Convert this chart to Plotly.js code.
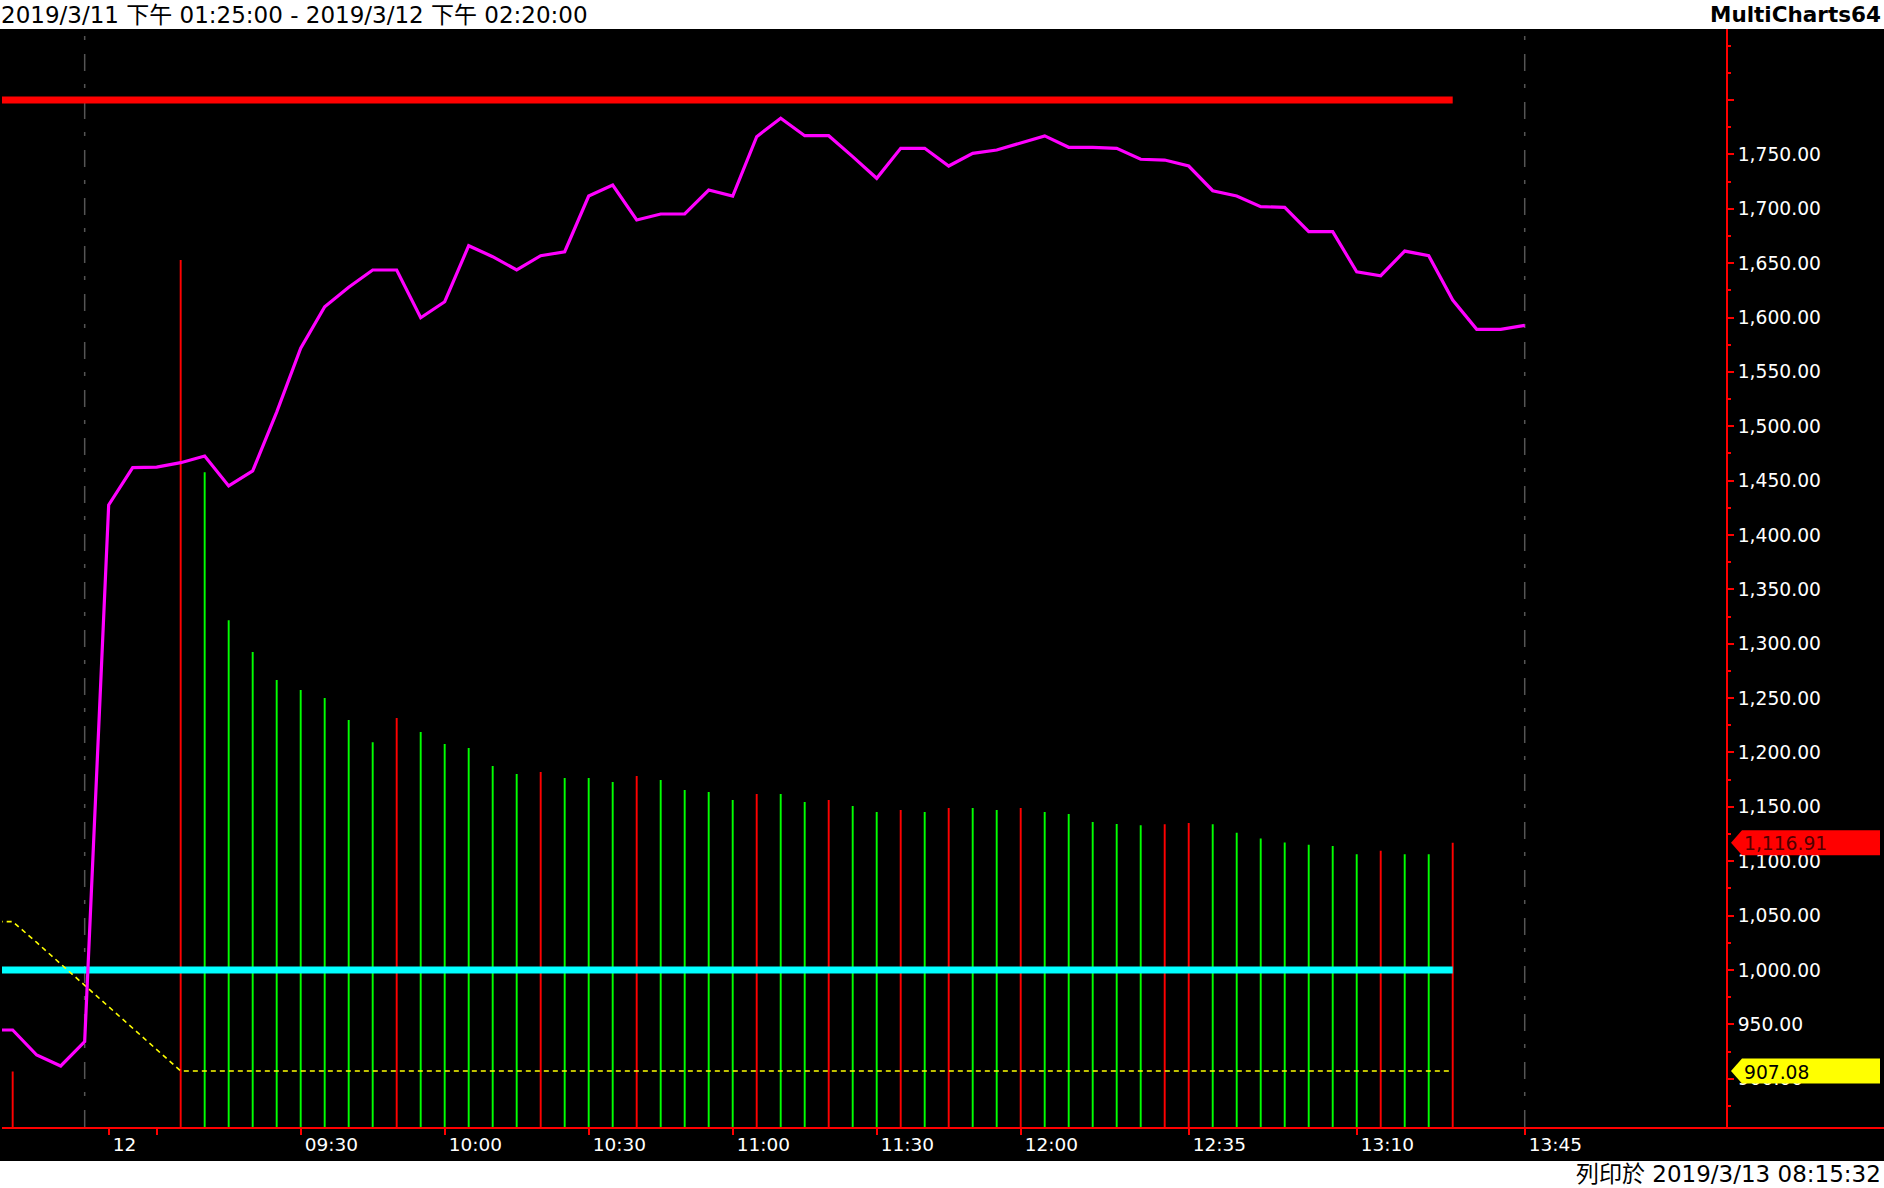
<!DOCTYPE html>
<html><head><meta charset="utf-8">
<script src="https://cdn.plot.ly/plotly-3.0.1.min.js"></script>
<style>html,body{margin:0;padding:0;background:#fff;overflow:hidden}#chart{width:1884px;height:1188px}</style>
</head><body><div id="chart"></div>
<script>
// ---- texts ----
const titleText = '2019/3/11 下午 01:25:00 - 2019/3/12 下午 02:20:00';
const brandText = 'MultiCharts64';
const printText = '列印於 2019/3/13 08:15:32';

// ---- magenta line (bar slot index, value) ----
const lineIdx = [-1,0,1,2,3,4,5,6,7,8,9,10,11,12,13,14,15,16,17,18,19,20,21,22,23,24,25,26,27,28,29,30,31,32,33,34,35,36,37,38,39,40,41,42,43,44,45,46,47,48,49,50,51,52,53,54,55,56,57,58,59,60,61,62,63];
const lineValues = [944.8,944.8,921.8,911.7,934.1,1427.6,1461.9,1462.5,1466.5,1472.6,1445.1,1458.9,1513.0,1571.7,1609.9,1627.8,1643.7,1643.7,1599.8,1614.5,1666.0,1655.9,1643.7,1656.8,1660.5,1711.7,1721.8,1689.7,1695.2,1695.2,1717.2,1711.7,1766.3,1783.2,1767.2,1767.2,1747.9,1728.0,1755.6,1755.6,1739.3,1751.0,1754.0,1760.7,1767.0,1756.5,1756.5,1755.6,1745.5,1744.8,1739.3,1716.6,1711.7,1701.9,1701.3,1678.9,1678.9,1642.1,1638.4,1661.1,1656.8,1616.1,1589.1,1589.1,1592.8];

// ---- histogram bars ----
const barIdx = [0,7,8,9,10,11,12,13,14,15,16,17,18,19,20,21,22,23,24,25,26,27,28,29,30,31,32,33,34,35,36,37,38,39,40,41,42,43,44,45,46,47,48,49,50,51,52,53,54,55,56,57,58,59,60];
const barValues = [906.6,1652.9,1457.6,1321.6,1292.4,1266.7,1257.5,1250.1,1229.9,1209.4,1231.7,1218.9,1207.8,1204.1,1187.6,1180.2,1182.1,1176.6,1176.6,1172.9,1178.4,1174.7,1165.5,1163.7,1156.3,1161.8,1161.8,1154.5,1156.3,1150.8,1145.3,1147.1,1145.3,1149.0,1149.0,1147.1,1149.0,1145.3,1143.4,1136.1,1134.3,1133.0,1134.1,1135.2,1134.1,1126.3,1120.8,1117.3,1115.2,1114.1,1106.4,1109.7,1106.4,1106.4,1116.91];
const barUp = [0,0,1,1,1,1,1,1,1,1,0,1,1,1,1,1,0,1,1,1,0,1,1,1,1,0,1,1,0,1,1,0,1,0,1,1,0,1,1,1,1,1,0,0,1,1,1,1,1,1,1,0,1,1,0];

// ---- yellow dashed trail (slot -1..60) ----
const trailIdx = [-1,0,1,2,3,4,5,6,
  7,8,9,10,11,12,13,14,15,16,
  17,18,19,20,21,22,23,24,25,26,
  27,28,29,30,31,32,33,34,35,36,
  37,38,39,40,41,42,43,44,45,46,
  47,48,49,50,51,52,53,54,55,56,
  57,58,59,60];
const trailValues = [1044.5,1044.5,1025.3,1005.5,985.7,966.0,946.0,926.4,
  907.08,907.08,907.08,907.08,907.08,907.08,907.08,907.08,907.08,907.08,
  907.08,907.08,907.08,907.08,907.08,907.08,907.08,907.08,907.08,907.08,
  907.08,907.08,907.08,907.08,907.08,907.08,907.08,907.08,907.08,907.08,
  907.08,907.08,907.08,907.08,907.08,907.08,907.08,907.08,907.08,907.08,
  907.08,907.08,907.08,907.08,907.08,907.08,907.08,907.08,907.08,907.08,
  907.08,907.08,907.08,907.08];

// ---- horizontal levels ----
const levelIdx = [-1, 60];
const upperLevel = [1800, 1800];
const lowerLevel = [1000, 1000];

// ---- session separators ----
const sessionBreaks = [3, 63];

// ---- axes ----
const timeTickIdx = [4,6,12,18,24,30,36,42,49,56,63];
const timeTickLabels = ['12','','09:30','10:00','10:30','11:00','11:30','12:00','12:35','13:10','13:45'];
const priceTicks = [900,950,1000,1050,1100,1150,1200,1250,1300,1350,1400,1450,1500,1550,1600,1650,1700,1750,1800];
const priceUnlabeled = [1800];

const fmt = v => v.toLocaleString('en-US',{minimumFractionDigits:2,maximumFractionDigits:2});
const priceTickText = priceTicks.map(v => priceUnlabeled.includes(v) ? '' : fmt(v));

const W = 1884, H = 1188;
const M = {l:2, r:0, t:29, b:61};
const plotW = W - M.l - M.r, plotH = H - M.t - M.b;
const axisPos = (1727 - M.l) / plotW;
const FONT = 'DejaVu Sans, Noto Sans CJK TC, sans-serif';

const traces = [
  {x: levelIdx, y: lowerLevel, type:'scatter', mode:'lines', line:{color:'#00FFFF', width:7}, hoverinfo:'skip'},
  {x: levelIdx, y: upperLevel, type:'scatter', mode:'lines', line:{color:'#FF0000', width:7}, hoverinfo:'skip'},
  {x: barIdx, y: barValues, type:'bar', width:0.08,
   marker:{color: barUp.map(u => u ? '#00FF00' : '#FF0000'), line:{width:0}}, hoverinfo:'skip'},
  {x: trailIdx, y: trailValues, type:'scatter', mode:'lines', line:{color:'#FFFF00', width:1.6, dash:'5px,4px'}, hoverinfo:'skip'},
  {x: lineIdx, y: lineValues, type:'scatter', mode:'lines', line:{color:'#FF00FF', width:3.2}, hoverinfo:'skip'}
];

const lastBar = barValues[barValues.length-1];
const lastTrail = trailValues[trailValues.length-1];
const tagPath = 'M4,0L15,12.5L153,12.5L153,-12.5L15,-12.5Z';

const shapes = [
  {type:'rect', xref:'paper', yref:'paper', x0:-0.01, x1:1.01, y0:-(34/plotH), y1:1, fillcolor:'#000', line:{width:0}, layer:'below'},
  ...sessionBreaks.map(s => ({type:'line', xref:'x', yref:'paper', x0:s, x1:s, y0:0, y1:1,
      line:{color:'#555555', width:1.5, dash:'17px,14px,4px,13px'}, layer:'below'})),
  {type:'path', xref:'paper', yref:'y', xsizemode:'pixel', ysizemode:'pixel', xanchor:axisPos, yanchor:lastBar,
   path: tagPath, fillcolor:'#FF0000', line:{width:0}, layer:'above'},
  {type:'path', xref:'paper', yref:'y', xsizemode:'pixel', ysizemode:'pixel', xanchor:axisPos, yanchor:lastTrail,
   path: tagPath, fillcolor:'#FFFF00', line:{width:0}, layer:'above'}
];

const annotations = [
  {text:titleText, xref:'paper', yref:'paper', x:0, y:1, xanchor:'left', yanchor:'middle', xshift:-3, yshift:14.5,
   showarrow:false, font:{family:FONT, size:23, color:'#000'}},
  {text:'<b>'+brandText+'</b>', xref:'paper', yref:'paper', x:1, y:1, xanchor:'right', yanchor:'middle', xshift:-1, yshift:14.5,
   showarrow:false, font:{family:FONT, size:21.5, color:'#000'}},
  {text:printText, xref:'paper', yref:'paper', x:1, y:0, xanchor:'right', yanchor:'middle', xshift:-1, yshift:-47,
   showarrow:false, font:{family:FONT, size:23, color:'#000'}},
  {text:fmt(lastBar), xref:'paper', yref:'y', x:axisPos, y:lastBar, xanchor:'left', yanchor:'middle', xshift:15, yshift:-1,
   showarrow:false, font:{family:FONT, size:18.7, color:'#500000'}},
  {text:fmt(lastTrail), xref:'paper', yref:'y', x:axisPos, y:lastTrail, xanchor:'left', yanchor:'middle', xshift:15, yshift:-1,
   showarrow:false, font:{family:FONT, size:18.7, color:'#000'}}
];

const layout = {
  width:W, height:H, margin:{l:M.l, r:M.r, t:M.t, b:M.b, pad:0},
  paper_bgcolor:'#FFFFFF', plot_bgcolor:'#000000',
  showlegend:false, hovermode:false,
  font:{family:FONT, color:'#FFFFFF', size:18},
  xaxis:{range:[-0.445, 77.97], showgrid:false, zeroline:false, showline:true, linecolor:'#FF0000', linewidth:2,
    tickmode:'array', tickvals:timeTickIdx, ticktext:timeTickLabels, ticks:'outside', ticklen:6, tickwidth:2,
    tickcolor:'#FF0000', ticklabelposition:'outside right', ticklabelshift:2,
    tickfont:{family:FONT, size:18.5, color:'#FFFFFF'}, fixedrange:true},
  yaxis:{range:[855.6, 1865.3], anchor:'free', position:axisPos, side:'right',
    showgrid:false, zeroline:false, showline:true, linecolor:'#FF0000', linewidth:2,
    tickmode:'array', tickvals:priceTicks, ticktext:priceTickText, ticks:'outside', ticklen:6, tickwidth:2,
    tickcolor:'#FF0000', tickfont:{family:FONT, size:18.7, color:'#FFFFFF'},
    minor:{ticks:'outside', ticklen:3, tickwidth:2, tickcolor:'#FF0000', dtick:25, tick0:0},
    fixedrange:true},
  shapes: shapes,
  annotations: annotations
};

Plotly.newPlot('chart', traces, layout, {staticPlot:true, displayModeBar:false});
</script>
</body></html>
